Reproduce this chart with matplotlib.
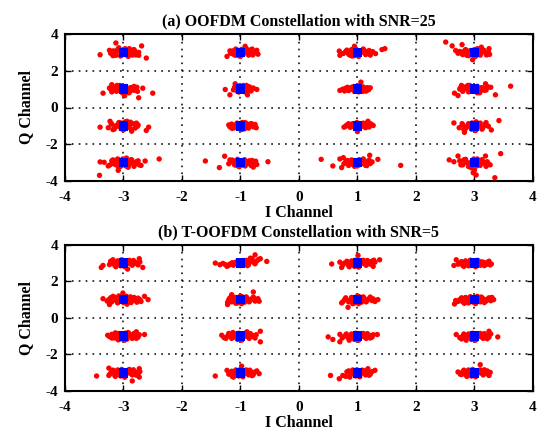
import matplotlib
matplotlib.use("Agg")
import matplotlib.pyplot as plt

# Ideal 16-QAM constellation levels
levels = [-3, -1, 1, 3]

# ---- Panel (a): received-symbol offsets (dI, dQ) around each ideal point ----
a_m3_p3 = [(-0.40,-0.13),(-0.13,0.51),(0.31,0.35),(0.39,-0.31),(-0.24,0.11),(0.26,-0.16),(-0.2,0.05),(-0.15,-0.1),(-0.1,0.15),(-0.05,-0.2),(0,0.1),(0.05,-0.05),(0.1,0.2),(0.15,-0.15),(0.2,0.05),(-0.18,-0.18),(0.08,-0.22),(0.22,-0.1),(-0.08,0.25),(0.12,0.1),(-0.12,0.0),(0.03,0.2),(0.18,0.15),
           (-0.22,-0.05),(-0.17,0.08),(-0.13,-0.16),(-0.07,0.1),(-0.03,0.0),(0.03,-0.12),(0.07,0.06),(0.11,-0.02),(0.16,0.12),(0.21,-0.14),(0.26,0.0),(0.0,0.15)]
a_m3_p1 = [(-0.35,-0.22),(-0.2,0.24),(0.33,0.05),(0.5,-0.22),(0.26,-0.47),(0.02,-0.36),(-0.22,0.0),(-0.16,0.12),(-0.12,-0.12),(-0.06,0.2),(0.0,-0.08),(0.04,0.14),(0.1,-0.18),(0.14,0.06),(0.2,-0.05),(-0.2,-0.15),(0.07,0.0),(-0.1,0.05),(0.18,0.15),(0.24,-0.12),(-0.02,-0.2),
           (-0.24,0.06),(-0.19,-0.04),(-0.11,0.2),(-0.08,-0.06),(-0.02,0.13),(0.04,0.02),(0.09,-0.2),(0.12,0.08),(0.17,-0.06),(0.23,0.1),(0.01,-0.12),(-0.15,0.05)]
a_m3_m1 = [(-0.4,-0.07),(-0.23,0.25),(0.43,-0.07),(0.39,-0.25),(0.14,-0.29),(-0.2,0.1),(-0.15,-0.1),(-0.08,0.18),(-0.04,-0.15),(0.02,0.05),(0.06,0.25),(0.1,-0.08),(0.15,0.12),(0.2,-0.12),(0.25,0.05),(-0.12,0.02),(0.0,-0.22),(0.12,0.2),(0.22,0.15),(-0.18,-0.2),
           (-0.21,0.12),(-0.16,-0.18),(-0.09,-0.02),(-0.04,0.16),(0.01,-0.16),(0.06,0.1),(0.1,0.0),(0.13,-0.18),(0.19,0.1),(0.24,-0.02),(-0.26,-0.1),(0.03,0.22)]
a_m3_m3 = [(-0.41,-0.69),(0.61,0.2),(-0.4,0.04),(0.37,0.09),(-0.09,-0.42),(-0.26,-0.18),(-0.33,0.02),(0.3,-0.15),(-0.2,0.1),(-0.14,-0.1),(-0.1,0.2),(-0.05,-0.2),(0.0,0.05),(0.05,0.25),(0.1,-0.1),(0.14,0.15),(0.2,-0.05),(0.25,0.1),(-0.18,-0.05),(0.08,-0.25),(0.18,-0.2),(-0.06,0.12),
           (-0.23,-0.12),(-0.18,0.15),(-0.14,0.03),(-0.06,-0.08),(-0.01,0.2),(0.04,-0.18),(0.08,0.08),(0.13,0.16),(0.17,-0.03),(0.22,0.05),(0.27,-0.12),(-0.09,-0.22)]
a_m1_p3 = [(-0.23,-0.22),(0.28,0.11),(0.08,0.33),(0.3,-0.1),(-0.18,0.08),(-0.12,-0.1),(-0.08,0.18),(-0.03,-0.18),(0.02,0.1),(0.06,-0.05),(0.1,0.2),(0.14,-0.15),(0.18,0.05),(0.22,-0.08),(-0.15,0.0),(0.0,-0.22),(0.12,0.12),(0.2,0.18),(-0.05,0.05),
           (-0.17,-0.05),(-0.13,0.08),(-0.09,-0.16),(-0.05,0.12),(0.0,0.0),(0.04,-0.12),(0.08,0.06),(0.12,-0.02),(0.16,0.12),(0.21,-0.14),(0.25,0.02),(0.02,0.16)]
a_m1_p1 = [(-0.26,-0.02),(-0.18,-0.31),(-0.09,0.29),(0.28,-0.02),(0.12,-0.31),(0.2,0.0),(-0.1,0.1),(-0.06,-0.1),(-0.02,0.18),(0.02,-0.05),(0.05,0.12),(0.08,-0.15),(0.12,0.05),(0.15,-0.05),(-0.08,0.0),(0.0,0.0),(0.1,0.2),(0.16,0.1),
           (-0.12,-0.04),(-0.05,0.06),(-0.03,-0.16),(0.03,0.08),(0.07,-0.02),(0.1,-0.12),(0.14,0.14),(0.18,-0.1),(0.22,0.06),(0.05,0.2)]
a_m1_m1 = [(-0.18,-0.05),(0.27,-0.1),(0.25,0.08),(-0.15,0.1),(-0.1,-0.1),(-0.06,0.15),(-0.02,-0.15),(0.02,0.08),(0.06,-0.05),(0.1,0.12),(0.14,-0.12),(0.18,0.02),(0.22,-0.05),(-0.12,0.0),(0.0,0.0),(0.08,0.18),(0.16,0.1),
           (-0.2,0.05),(-0.14,-0.14),(-0.08,0.04),(-0.04,-0.06),(0.03,0.18),(0.07,-0.16),(0.11,0.02),(0.15,-0.02),(0.19,0.12),(0.24,0.02),(0.02,-0.2)]
a_m1_m3 = [(-0.6,0.09),(-0.36,-0.27),(-0.27,0.35),(0.47,0.05),(0.22,-0.24),(-0.18,0.15),(0.28,-0.1),(-0.15,0.05),(-0.1,-0.12),(-0.05,0.18),(0.0,-0.08),(0.04,0.1),(0.08,-0.18),(0.12,0.05),(0.16,-0.05),(0.2,0.12),(-0.12,0.1),(0.06,0.0),(0.18,-0.15),(-0.02,-0.22),
           (-0.2,-0.06),(-0.14,0.14),(-0.08,-0.02),(-0.03,0.06),(0.02,-0.14),(0.07,0.16),(0.1,-0.06),(0.15,0.1),(0.22,0.0),(0.26,0.08),(-0.06,-0.16)]
a_p1_p3 = [(-0.31,0.07),(-0.3,-0.16),(0.47,0.2),(0.31,-0.07),(-0.05,0.33),(0.42,0.15),(-0.2,0.05),(-0.15,-0.1),(-0.1,0.15),(-0.05,-0.18),(0.0,0.08),(0.05,-0.05),(0.1,0.18),(0.14,-0.12),(0.18,0.0),(0.22,-0.15),(-0.12,0.0),(0.02,-0.22),(0.08,0.1),
           (-0.24,-0.06),(-0.18,0.12),(-0.13,-0.15),(-0.07,0.02),(-0.02,0.16),(0.03,-0.1),(0.07,0.02),(0.12,0.1),(0.16,-0.06),(0.2,0.1),(0.26,0.04),(-0.09,-0.2)]
a_p1_p1 = [(0.06,0.38),(0.22,0.07),(-0.3,-0.07),(-0.25,0.0),(0.15,-0.1),(-0.2,0.05),(-0.15,-0.08),(-0.1,0.1),(-0.05,-0.12),(0.0,0.05),(0.05,-0.05),(0.1,0.12),(0.14,-0.1),(-0.08,0.0),(0.02,-0.15),(0.08,0.0),
           (-0.22,-0.1),(-0.17,0.1),(-0.12,-0.02),(-0.06,0.14),(-0.02,-0.04),(0.04,0.1),(0.09,-0.12),(0.12,0.04),(0.17,0.08),(0.19,-0.04),(0.0,0.18)]
a_p1_m1 = [(-0.23,-0.07),(0.18,0.25),(0.27,0.02),(0.0,-0.31),(0.22,0.12),(-0.18,0.05),(-0.12,-0.08),(-0.08,0.12),(-0.03,-0.12),(0.02,0.1),(0.06,-0.05),(0.1,0.15),(0.14,-0.1),(0.18,0.05),(-0.1,0.0),(0.04,0.0),
           (-0.2,-0.02),(-0.15,0.12),(-0.06,-0.02),(-0.01,0.18),(0.03,-0.16),(0.08,0.06),(0.12,-0.02),(0.16,0.14),(0.2,-0.06),(0.24,0.08),(0.0,0.04)]
a_p1_m3 = [(-0.62,0.18),(-0.42,-0.18),(-0.27,-0.27),(-0.24,0.27),(0.74,-0.15),(0.21,0.4),(0.35,0.18),(-0.3,0.2),(-0.2,0.05),(-0.15,-0.15),(-0.1,0.15),(-0.05,-0.2),(0.0,0.1),(0.05,-0.1),(0.1,0.2),(0.14,-0.15),(0.18,0.05),(0.22,-0.05),(-0.1,0.0),(0.05,0.0),(0.12,0.1),
           (-0.23,-0.06),(-0.17,0.12),(-0.12,-0.08),(-0.07,0.06),(-0.02,-0.1),(0.03,0.16),(0.08,-0.04),(0.11,0.02),(0.16,-0.16),(0.2,0.14),(0.25,0.04),(0.0,-0.18)]
a_p3_p3 = [(-0.49,0.56),(-0.38,0.35),(-0.21,0.42),(0.25,0.2),(0.26,-0.11),(-0.03,-0.4),(-0.32,0.1),(0.12,0.28),(-0.25,0.05),(-0.2,-0.12),(-0.15,0.15),(-0.1,-0.18),(-0.05,0.08),(0.0,-0.05),(0.05,0.2),(0.1,-0.15),(0.15,0.05),(0.2,-0.1),(-0.12,0.0),(0.02,-0.22),(0.08,0.12),(-0.28,-0.05),
           (-0.22,-0.05),(-0.17,0.08),(-0.13,-0.16),(-0.07,0.1),(-0.03,0.0),(0.03,-0.12),(0.07,0.06),(0.11,-0.02),(0.16,0.12),(0.21,-0.14),(0.24,0.02),(0.0,0.15)]
a_p3_p1 = [(0.62,0.16),(0.36,-0.31),(0.19,0.29),(-0.34,-0.22),(-0.28,-0.35),(-0.22,0.2),(0.28,0.1),(-0.25,0.0),(-0.2,-0.12),(-0.15,0.12),(-0.1,-0.15),(-0.05,0.05),(0.0,-0.05),(0.05,0.15),(0.1,-0.12),(0.15,0.05),(0.2,-0.05),(0.22,0.15),(-0.08,0.2),(0.05,-0.2),
           (-0.24,0.06),(-0.19,-0.04),(-0.11,0.2),(-0.08,-0.06),(-0.02,0.13),(0.04,0.02),(0.09,-0.2),(0.12,0.08),(0.17,-0.06),(0.23,0.1),(0.01,-0.12),(-0.15,0.05)]
a_p3_m1 = [(0.42,0.29),(0.29,-0.22),(-0.35,0.16),(-0.17,-0.35),(0.2,0.18),(-0.2,0.05),(-0.15,-0.12),(-0.1,0.12),(-0.05,-0.18),(0.0,0.1),(0.05,-0.05),(0.1,0.15),(0.14,-0.12),(0.18,0.02),(-0.12,0.0),(0.02,-0.25),(0.08,0.0),(-0.18,-0.2),
           (-0.21,0.12),(-0.16,-0.18),(-0.09,-0.02),(-0.04,0.16),(0.01,-0.16),(0.06,0.1),(0.1,0.0),(0.13,-0.18),(0.19,0.1),(0.24,-0.02),(-0.26,-0.1),(0.03,0.22)]
a_p3_m3 = [(0.45,0.49),(0.35,-0.82),(0.03,-0.67),(-0.02,-0.55),(-0.43,0.15),(-0.28,0.36),(0.25,-0.09),(0.19,0.36),(-0.35,0.05),(0.0,-0.4),(-0.25,0.1),(-0.2,-0.12),(-0.15,0.18),(-0.1,-0.2),(-0.05,0.05),(0.0,-0.1),(0.05,0.2),(0.1,-0.15),(0.15,0.05),(0.2,-0.2),(-0.12,0.0),(0.08,0.1),(-0.05,-0.28),
           (-0.23,-0.12),(-0.18,0.15),(-0.14,0.03),(-0.06,-0.08),(-0.01,0.2),(0.04,-0.18),(0.08,0.08),(0.13,0.16),(0.17,-0.03),(0.22,0.05),(0.27,-0.12),(-0.09,-0.22)]

# ---- Panel (b) ----
b_m3_p3 = [(-0.38,-0.24),(-0.35,-0.13),(-0.18,0.18),(0.33,-0.24),(0.27,0.24),(0.07,-0.33),(-0.2,0.0),(-0.15,-0.12),(-0.1,0.12),(-0.05,-0.15),(0.0,0.08),(0.05,-0.05),(0.1,0.15),(0.15,-0.12),(0.2,0.05),(0.25,-0.1),(-0.12,0.02),(0.02,-0.2),(0.08,0.0),(-0.22,0.1),
           (-0.24,-0.08),(-0.17,0.06),(-0.08,-0.04),(-0.03,0.18),(0.03,-0.12),(0.07,0.1),(0.12,-0.04),(0.17,0.14),(0.22,-0.02),(0.28,0.06),(-0.13,-0.2),(0.0,0.02)]
b_m3_p1 = [(-0.35,0.05),(0.42,0.0),(0.36,0.18),(-0.24,-0.27),(-0.01,0.36),(0.3,-0.1),(-0.25,0.0),(-0.2,-0.12),(-0.15,0.12),(-0.1,-0.18),(-0.05,0.05),(0.0,-0.08),(0.05,0.18),(0.1,-0.12),(0.15,0.05),(0.2,-0.05),(0.25,0.08),(-0.08,0.2),(0.06,-0.25),(-0.18,0.18),(0.12,0.15),
           (-0.28,-0.08),(-0.22,0.1),(-0.13,-0.04),(-0.07,-0.1),(-0.02,0.12),(0.03,0.04),(0.08,-0.02),(0.13,-0.16),(0.18,0.12),(0.23,-0.14),(0.28,0.0),(0.0,-0.16)]
b_m3_m1 = [(0.36,0.09),(-0.27,0.05),(0.22,0.24),(-0.2,-0.1),(-0.2,0.1),(-0.15,-0.1),(-0.1,0.15),(-0.05,-0.15),(0.0,0.08),(0.05,-0.08),(0.1,0.12),(0.15,-0.12),(0.2,0.02),(0.25,-0.05),(-0.12,0.0),(0.02,-0.22),(0.08,0.2),(0.18,0.15),
           (-0.24,-0.02),(-0.17,0.04),(-0.07,0.02),(-0.03,-0.06),(0.03,0.16),(0.06,-0.16),(0.12,0.02),(0.16,0.06),(0.22,-0.12),(0.27,0.08),(-0.09,-0.2),(-0.14,0.18)]
b_m3_m3 = [(-0.46,-0.18),(-0.25,0.25),(0.27,0.22),(0.15,-0.45),(0.27,-0.24),(-0.25,-0.15),(-0.2,0.05),(-0.15,-0.12),(-0.1,0.15),(-0.05,-0.18),(0.0,0.1),(0.05,-0.05),(0.1,0.18),(0.15,-0.12),(0.2,0.05),(0.25,-0.05),(-0.12,-0.02),(0.02,-0.25),(0.08,0.02),
           (-0.23,-0.06),(-0.18,0.14),(-0.08,0.02),(-0.03,0.18),(0.03,-0.1),(0.07,0.12),(0.12,-0.04),(0.17,0.16),(0.22,-0.14),(0.28,0.06),(-0.14,-0.2),(0.0,-0.04)]
b_m1_p3 = [(-0.43,0.0),(-0.35,-0.09),(-0.23,-0.18),(0.25,0.45),(0.34,0.24),(0.45,0.09),(0.17,0.27),(-0.3,-0.02),(-0.18,-0.05),(-0.12,-0.12),(-0.08,0.05),(-0.03,-0.1),(0.02,0.1),(0.06,-0.05),(0.1,0.15),(0.14,-0.08),(0.18,0.18),(0.22,0.05),(-0.14,0.02),(0.04,0.02),(0.28,0.12),
           (-0.26,-0.08),(-0.2,-0.12),(-0.1,-0.04),(-0.05,0.08),(0.0,-0.14),(0.04,0.14),(0.08,0.06),(0.12,-0.14),(0.16,0.08),(0.2,0.24),(0.25,-0.04),(0.31,0.2)]
b_m1_p1 = [(-0.22,-0.27),(0.22,0.42),(0.32,-0.09),(-0.15,0.27),(0.3,0.05),(-0.2,0.0),(-0.15,-0.12),(-0.1,0.12),(-0.05,-0.18),(0.0,0.08),(0.05,-0.05),(0.1,0.15),(0.15,-0.12),(0.2,0.05),(0.25,-0.08),(-0.12,-0.02),(0.02,-0.22),(0.08,0.02),(-0.22,-0.15),
           (-0.18,0.1),(-0.13,-0.06),(-0.07,0.04),(-0.03,-0.08),(0.03,0.16),(0.07,-0.14),(0.12,0.06),(0.17,-0.02),(0.22,0.14),(0.26,0.02),(-0.08,-0.2),(0.0,0.2)]
b_m1_m1 = [(-0.32,0.05),(0.34,0.27),(0.34,-0.31),(0.11,0.24),(-0.28,-0.08),(-0.22,0.0),(-0.15,-0.12),(-0.1,0.12),(-0.05,-0.18),(0.0,0.08),(0.05,-0.05),(0.1,0.15),(0.15,-0.12),(0.2,0.05),(0.25,-0.1),(-0.12,-0.02),(0.02,-0.22),(0.08,0.02),(-0.2,0.15),
           (-0.25,-0.12),(-0.17,0.06),(-0.08,-0.06),(-0.03,0.16),(0.03,-0.1),(0.07,0.1),(0.12,-0.02),(0.17,0.14),(0.22,-0.02),(0.27,0.08),(-0.13,0.2),(0.0,-0.04)]
b_m1_m3 = [(-0.43,-0.18),(-0.23,0.13),(0.02,0.36),(0.32,-0.05),(-0.12,-0.24),(0.28,0.1),(-0.18,0.0),(-0.12,-0.12),(-0.08,0.15),(-0.03,-0.18),(0.02,0.08),(0.06,-0.05),(0.1,0.15),(0.14,-0.12),(0.18,0.05),(0.22,-0.1),(-0.1,0.0),(0.04,-0.22),(0.08,0.02),
           (-0.2,-0.08),(-0.15,0.08),(-0.06,-0.04),(-0.01,0.16),(0.03,-0.12),(0.08,0.12),(0.12,-0.04),(0.16,0.14),(0.2,-0.16),(0.25,0.04),(-0.14,-0.2),(0.0,0.0)]
b_p1_p3 = [(-0.44,-0.05),(-0.27,-0.24),(0.38,0.18),(0.01,0.42),(0.27,-0.18),(-0.3,0.05),(-0.22,0.0),(-0.15,-0.12),(-0.1,0.12),(-0.05,-0.18),(0.0,0.08),(0.05,-0.05),(0.1,0.15),(0.15,-0.12),(0.2,0.05),(0.25,0.1),(-0.12,-0.02),(0.02,-0.22),(0.08,0.02),(0.3,0.05),
           (-0.25,-0.1),(-0.18,0.1),(-0.08,-0.06),(-0.03,0.16),(0.03,-0.1),(0.07,0.12),(0.12,-0.04),(0.17,0.14),(0.22,-0.06),(0.28,0.16),(-0.14,-0.2),(0.0,0.0)]
b_p1_p1 = [(-0.27,-0.18),(0.35,0.0),(-0.16,-0.42),(0.3,-0.1),(-0.22,0.0),(-0.15,-0.12),(-0.1,0.12),(-0.05,-0.18),(0.0,0.1),(0.05,-0.05),(0.1,0.15),(0.15,-0.12),(0.2,0.05),(0.25,-0.05),(-0.12,-0.02),(0.02,-0.22),(0.08,0.02),(-0.25,-0.12),
           (-0.2,0.1),(-0.13,-0.06),(-0.07,0.04),(-0.03,-0.08),(0.03,0.16),(0.07,-0.14),(0.12,0.06),(0.17,-0.02),(0.22,0.14),(0.27,0.04),(-0.08,-0.22),(0.0,0.2)]
b_p1_m1 = [(-0.5,-0.04),(-0.42,-0.18),(0.34,0.09),(-0.3,-0.31),(-0.3,0.1),(-0.22,0.0),(-0.15,-0.12),(-0.1,0.12),(-0.05,-0.18),(0.0,0.1),(0.05,-0.05),(0.1,0.15),(0.15,-0.12),(0.2,0.05),(0.25,-0.05),(-0.12,-0.02),(0.02,-0.22),(0.08,0.02),
           (-0.26,-0.1),(-0.19,0.12),(-0.08,-0.06),(-0.03,0.16),(0.03,-0.1),(0.07,0.12),(0.12,-0.04),(0.17,0.14),(0.22,-0.1),(0.27,0.08),(-0.14,-0.22),(0.0,0.02)]
b_p1_m3 = [(-0.46,-0.15),(-0.31,-0.33),(0.3,0.13),(0.18,0.22),(-0.25,-0.15),(-0.18,0.05),(-0.12,-0.12),(-0.08,0.15),(-0.03,-0.18),(0.02,0.1),(0.06,-0.05),(0.1,0.12),(0.14,-0.12),(0.18,0.05),(0.22,-0.08),(-0.1,0.0),(0.04,-0.22),(0.08,0.02),
           (-0.2,-0.2),(-0.15,0.1),(-0.06,-0.06),(-0.01,0.16),(0.03,-0.1),(0.08,0.14),(0.12,-0.02),(0.16,0.12),(0.2,-0.14),(0.25,0.06),(-0.13,-0.24),(0.0,0.0)]
b_p3_p3 = [(-0.35,-0.13),(0.29,-0.05),(-0.31,0.18),(0.25,0.1),(-0.25,0.0),(-0.2,-0.12),(-0.15,0.12),(-0.1,-0.15),(-0.05,0.08),(0.0,-0.05),(0.05,0.15),(0.1,-0.12),(0.15,0.05),(0.2,-0.08),(-0.12,0.02),(0.02,-0.2),(0.08,0.02),
           (-0.28,-0.06),(-0.22,0.08),(-0.13,-0.08),(-0.07,0.16),(-0.02,0.02),(0.04,-0.14),(0.07,0.12),(0.12,0.06),(0.17,-0.14),(0.22,0.04),(0.27,-0.1),(-0.18,-0.18)]
b_p3_p1 = [(-0.34,-0.24),(0.33,0.0),(0.3,0.12),(-0.32,-0.05),(-0.25,0.0),(-0.2,-0.12),(-0.15,0.12),(-0.1,-0.18),(-0.05,0.08),(0.0,-0.05),(0.05,0.18),(0.1,-0.12),(0.15,0.05),(0.2,-0.08),(0.25,0.1),(-0.12,0.02),(0.02,-0.22),(0.08,0.02),
           (-0.28,-0.1),(-0.22,0.1),(-0.13,-0.06),(-0.07,0.16),(-0.02,-0.14),(0.04,0.06),(0.08,-0.06),(0.12,0.14),(0.17,-0.16),(0.22,0.02),(0.28,-0.06),(-0.17,-0.2)]
b_p3_m1 = [(0.4,-0.04),(-0.31,0.09),(0.25,0.27),(-0.22,-0.15),(-0.2,0.0),(-0.15,-0.12),(-0.1,0.12),(-0.05,-0.18),(0.0,0.1),(0.05,-0.05),(0.1,0.15),(0.15,-0.12),(0.2,0.05),(0.25,-0.05),(-0.12,-0.02),(0.02,-0.22),(0.08,0.02),
           (-0.25,-0.08),(-0.18,0.12),(-0.08,-0.06),(-0.03,0.16),(0.03,-0.1),(0.07,0.12),(0.12,-0.04),(0.17,0.14),(0.22,-0.14),(0.28,0.12),(-0.14,-0.22),(0.0,0.0)]
b_p3_m3 = [(0.1,0.44),(-0.28,0.04),(0.25,-0.15),(-0.22,-0.1),(0.22,0.1),(-0.2,0.05),(-0.15,-0.1),(-0.1,0.15),(-0.05,-0.18),(0.0,0.08),(0.05,-0.05),(0.1,0.15),(0.15,-0.12),(0.2,0.05),(-0.12,0.0),(0.02,-0.22),(0.08,0.02),
           (-0.24,-0.08),(-0.18,0.14),(-0.08,-0.04),(-0.03,0.18),(0.03,-0.12),(0.07,0.12),(0.12,-0.02),(0.17,0.16),(0.22,-0.06),(0.27,0.02),(-0.13,-0.2),(0.0,0.0)]

titles = ["(a) OOFDM Constellation with SNR=25", "(b) T-OOFDM Constellation with SNR=5"]
xlabel = "I Channel"
ylabel = "Q Channel"
x_ticks = [-4, -3, -2, -1, 0, 1, 2, 3, 4]
y_ticks = [-4, -2, 0, 2, 4]

panel_a = {(-3, 3): a_m3_p3, (-3, 1): a_m3_p1, (-3, -1): a_m3_m1, (-3, -3): a_m3_m3,
           (-1, 3): a_m1_p3, (-1, 1): a_m1_p1, (-1, -1): a_m1_m1, (-1, -3): a_m1_m3,
           (1, 3): a_p1_p3, (1, 1): a_p1_p1, (1, -1): a_p1_m1, (1, -3): a_p1_m3,
           (3, 3): a_p3_p3, (3, 1): a_p3_p1, (3, -1): a_p3_m1, (3, -3): a_p3_m3}
panel_b = {(-3, 3): b_m3_p3, (-3, 1): b_m3_p1, (-3, -1): b_m3_m1, (-3, -3): b_m3_m3,
           (-1, 3): b_m1_p3, (-1, 1): b_m1_p1, (-1, -1): b_m1_m1, (-1, -3): b_m1_m3,
           (1, 3): b_p1_p3, (1, 1): b_p1_p1, (1, -1): b_p1_m1, (1, -3): b_p1_m3,
           (3, 3): b_p3_p3, (3, 1): b_p3_p1, (3, -1): b_p3_m1, (3, -3): b_p3_m3}

plt.rcParams['font.family'] = ['Liberation Serif', 'DejaVu Serif']
plt.rcParams['font.weight'] = 'bold'
plt.rcParams['axes.unicode_minus'] = False

fig = plt.figure(figsize=(5.39, 4.30), dpi=100)
ax_pos = [[0.1206, 0.579, 0.868, 0.342], [0.1206, 0.0907, 0.868, 0.340]]

for pos, title, panel in zip(ax_pos, titles, [panel_a, panel_b]):
    ax = fig.add_axes(pos)
    xs, ys = [], []
    for (ci, cq), offs in panel.items():
        for dx, dy in offs:
            xs.append(ci + dx)
            ys.append(cq + dy)
    ax.scatter(xs, ys, s=15, c='#ff0000', edgecolors='none', zorder=3)
    ii = [i for i in levels for q in levels]
    qq = [q for i in levels for q in levels]
    ax.scatter(ii, qq, s=48, marker='s', c='#0000ff', edgecolors='none', zorder=4)
    ax.set_xlim(-4, 4)
    ax.set_ylim(-4, 4)
    ax.set_xticks(x_ticks)
    ax.set_yticks(y_ticks)
    ax.set_xticklabels([str(t) for t in x_ticks], fontweight='bold', fontsize=11)
    ax.set_yticklabels([str(t) for t in y_ticks], fontweight='bold', fontsize=11)
    ax.grid(True, linestyle=(0, (1.1, 3.4)), color='black', linewidth=1.1, zorder=0)
    ax.set_axisbelow(True)
    ax.tick_params(axis='both', direction='in', top=True, right=True, length=4, width=1)
    ax.tick_params(axis='x', pad=7)
    ax.tick_params(axis='y', pad=5)
    for sp in ax.spines.values():
        sp.set_linewidth(1.5)
    ax.set_title(title, fontsize=11.5, fontweight='bold', pad=6)
    ax.set_xlabel(xlabel, fontsize=11.5, fontweight='bold', labelpad=1)
    ax.set_ylabel(ylabel, fontsize=11.5, fontweight='bold', labelpad=8)

fig.savefig('out.png', dpi=100)
